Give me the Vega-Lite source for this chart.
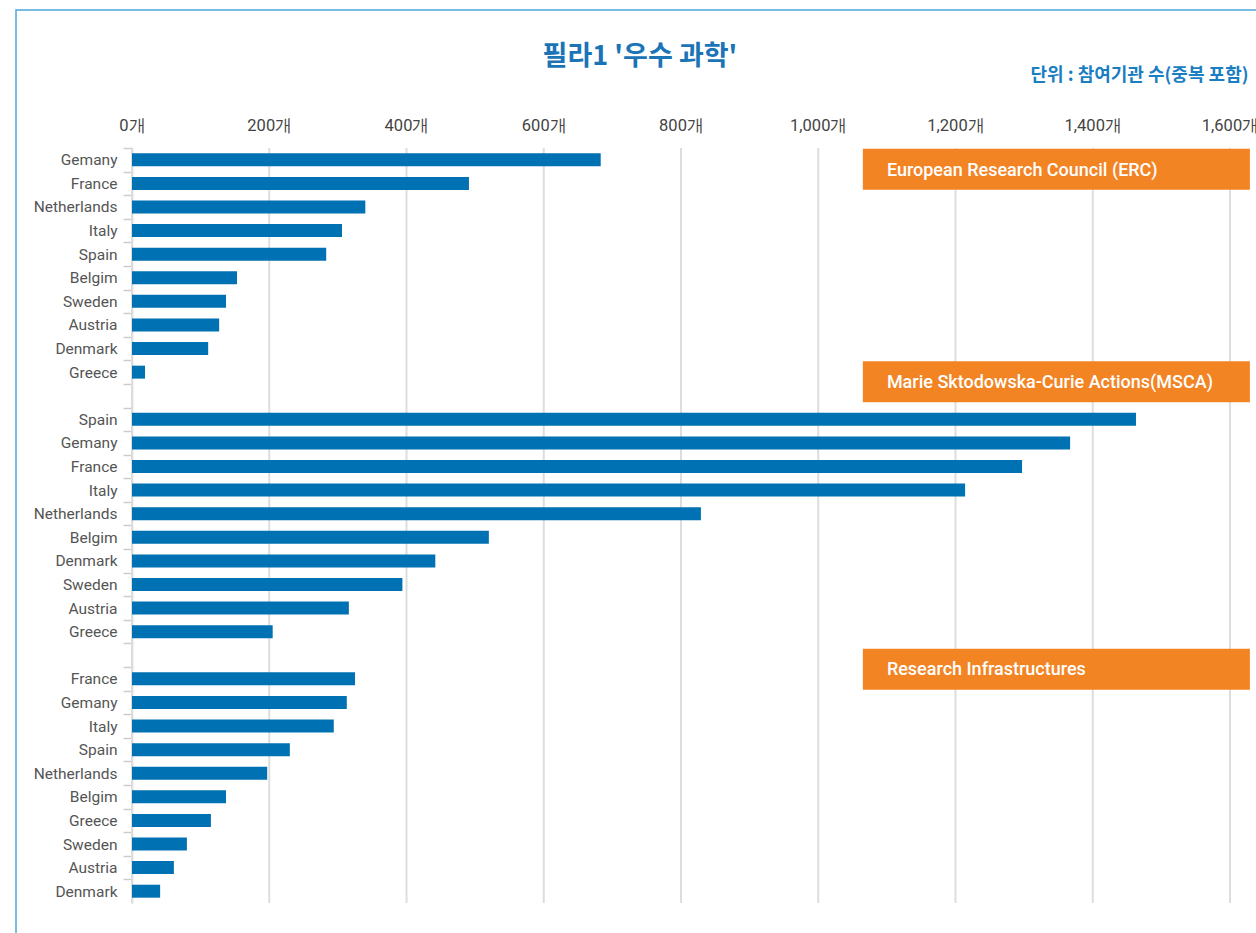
{
  "$schema": "https://vega.github.io/schema/vega-lite/v6.json",
  "width": 1260,
  "height": 940,
  "autosize": {"type": "none"},
  "padding": {"left": 16, "top": 10, "right": 0, "bottom": 0},
  "background": "white",
  "title": {
    "text": "필라1 '우수 과학'",
    "anchor": "middle",
    "offset": -61,
    "dx": -6,
    "fontSize": 27,
    "font": "Noto Sans CJK KR",
    "fontWeight": "bold",
    "color": "#1a74b6"
  },
  "config": {
    "view": {"stroke": "#4ea6d9", "strokeWidth": 1.5}
  },
  "layer": [
    {
      "data": {"values": [
        {"tick": 0}, {"tick": 200}, {"tick": 400}, {"tick": 600}, {"tick": 800},
        {"tick": 1000}, {"tick": 1200}, {"tick": 1400}, {"tick": 1600}
      ]},
      "mark": {"type": "rule", "color": "#dddddd", "strokeWidth": 2, "yOffset": -11.8, "y2Offset": 11.8},
      "encoding": {
        "x": {"field": "tick", "type": "quantitative"},
        "y": {"datum": "ERC|Gemany", "type": "nominal"},
        "y2": {"datum": "RI|Denmark"}
      }
    },
    {
      "data": {"values": [
        {"group": "ERC", "country": "Gemany", "key": "ERC|Gemany", "value": 683},
        {"group": "ERC", "country": "France", "key": "ERC|France", "value": 491},
        {"group": "ERC", "country": "Netherlands", "key": "ERC|Netherlands", "value": 340},
        {"group": "ERC", "country": "Italy", "key": "ERC|Italy", "value": 306},
        {"group": "ERC", "country": "Spain", "key": "ERC|Spain", "value": 283},
        {"group": "ERC", "country": "Belgim", "key": "ERC|Belgim", "value": 153},
        {"group": "ERC", "country": "Sweden", "key": "ERC|Sweden", "value": 137},
        {"group": "ERC", "country": "Austria", "key": "ERC|Austria", "value": 127},
        {"group": "ERC", "country": "Denmark", "key": "ERC|Denmark", "value": 111},
        {"group": "ERC", "country": "Greece", "key": "ERC|Greece", "value": 19},
        {"group": "MSCA", "country": "Spain", "key": "MSCA|Spain", "value": 1463},
        {"group": "MSCA", "country": "Gemany", "key": "MSCA|Gemany", "value": 1367},
        {"group": "MSCA", "country": "France", "key": "MSCA|France", "value": 1297},
        {"group": "MSCA", "country": "Italy", "key": "MSCA|Italy", "value": 1214},
        {"group": "MSCA", "country": "Netherlands", "key": "MSCA|Netherlands", "value": 829},
        {"group": "MSCA", "country": "Belgim", "key": "MSCA|Belgim", "value": 520},
        {"group": "MSCA", "country": "Denmark", "key": "MSCA|Denmark", "value": 442},
        {"group": "MSCA", "country": "Sweden", "key": "MSCA|Sweden", "value": 394},
        {"group": "MSCA", "country": "Austria", "key": "MSCA|Austria", "value": 316},
        {"group": "MSCA", "country": "Greece", "key": "MSCA|Greece", "value": 205},
        {"group": "RI", "country": "France", "key": "RI|France", "value": 325},
        {"group": "RI", "country": "Gemany", "key": "RI|Gemany", "value": 313},
        {"group": "RI", "country": "Italy", "key": "RI|Italy", "value": 294},
        {"group": "RI", "country": "Spain", "key": "RI|Spain", "value": 230},
        {"group": "RI", "country": "Netherlands", "key": "RI|Netherlands", "value": 197},
        {"group": "RI", "country": "Belgim", "key": "RI|Belgim", "value": 137},
        {"group": "RI", "country": "Greece", "key": "RI|Greece", "value": 115},
        {"group": "RI", "country": "Sweden", "key": "RI|Sweden", "value": 80},
        {"group": "RI", "country": "Austria", "key": "RI|Austria", "value": 61},
        {"group": "RI", "country": "Denmark", "key": "RI|Denmark", "value": 41}
      ]},
      "mark": {"type": "bar", "color": "#0071b2"},
      "encoding": {
        "y": {
          "field": "key",
          "type": "nominal",
          "scale": {
            "domain": [
              "ERC|Gemany", "ERC|France", "ERC|Netherlands", "ERC|Italy", "ERC|Spain", "ERC|Belgim", "ERC|Sweden", "ERC|Austria", "ERC|Denmark", "ERC|Greece",
              "gap1",
              "MSCA|Spain", "MSCA|Gemany", "MSCA|France", "MSCA|Italy", "MSCA|Netherlands", "MSCA|Belgim", "MSCA|Denmark", "MSCA|Sweden", "MSCA|Austria", "MSCA|Greece",
              "gap2",
              "RI|France", "RI|Gemany", "RI|Italy", "RI|Spain", "RI|Netherlands", "RI|Belgim", "RI|Greece", "RI|Sweden", "RI|Austria", "RI|Denmark"
            ],
            "range": [138, 893],
            "paddingInner": 0.45,
            "paddingOuter": 0.225
          },
          "axis": {
            "orient": "left",
            "offset": -116,
            "title": null,
            "ticks": true,
            "tickSize": 9,
            "tickOffset": -11.8,
            "labelOffset": 11.8,
            "tickColor": "#cccccc",
            "tickWidth": 1.5,
            "domain": true,
            "domainColor": "#cccccc",
            "domainWidth": 1.5,
            "grid": false,
            "labelExpr": "indexof(datum.value, '|') > 0 ? split(datum.value, '|')[1] : ''",
            "labelFont": "Roboto",
            "labelFontSize": 15.5,
            "labelColor": "#555555",
            "labelPadding": 6
          }
        },
        "x": {
          "field": "value",
          "type": "quantitative",
          "scale": {"domain": [0, 1600], "range": [116, 1214], "nice": false},
          "axis": {
            "orient": "top",
            "offset": -138,
            "values": [0, 200, 400, 600, 800, 1000, 1200, 1400, 1600],
            "labelExpr": "format(datum.value, ',') + '개'",
            "labelFlush": false,
            "ticks": false,
            "domain": false,
            "grid": false,
            "labelFont": "Roboto",
            "labelFontSize": 16.5,
            "labelColor": "#444444",
            "labelPadding": 15,
            "title": "단위 : 참여기관 수(중복 포함)",
            "titleAnchor": "end",
            "titleAlign": "right",
            "titleX": 1232,
            "titleY": -64,
            "titleFont": "Noto Sans CJK KR",
            "titleFontSize": 18,
            "titleFontWeight": "bold",
            "titleColor": "#1a7ec2"
          }
        }
      }
    },
    {
      "data": {"values": [
        {"label": "European Research Council (ERC)", "key": "ERC|Gemany"},
        {"label": "Marie Sktodowska-Curie Actions(MSCA)", "key": "ERC|Greece"}
      ]},
      "layer": [
        {
          "mark": {"type": "bar", "color": "#f28423", "height": 41, "yOffset": 9.5},
          "encoding": {
            "y": {"field": "key", "type": "nominal"},
            "x": {"datum": 1065, "type": "quantitative"},
            "x2": {"datum": 1629}
          }
        },
        {
          "mark": {"type": "text", "color": "white", "align": "left", "baseline": "middle", "yOffset": 11, "fontSize": 18, "fontWeight": 500, "font": "Roboto"},
          "encoding": {
            "y": {"field": "key", "type": "nominal"},
            "x": {"datum": 1100, "type": "quantitative"},
            "text": {"field": "label"}
          }
        }
      ]
    },
    {
      "data": {"values": [
        {"label": "Research Infrastructures", "key": "gap2"}
      ]},
      "layer": [
        {
          "mark": {"type": "bar", "color": "#f28423", "height": 41, "yOffset": 14},
          "encoding": {
            "y": {"field": "key", "type": "nominal"},
            "x": {"datum": 1065, "type": "quantitative"},
            "x2": {"datum": 1629}
          }
        },
        {
          "mark": {"type": "text", "color": "white", "align": "left", "baseline": "middle", "yOffset": 15, "fontSize": 18, "fontWeight": 500, "font": "Roboto"},
          "encoding": {
            "y": {"field": "key", "type": "nominal"},
            "x": {"datum": 1100, "type": "quantitative"},
            "text": {"field": "label"}
          }
        }
      ]
    }
  ]
}
